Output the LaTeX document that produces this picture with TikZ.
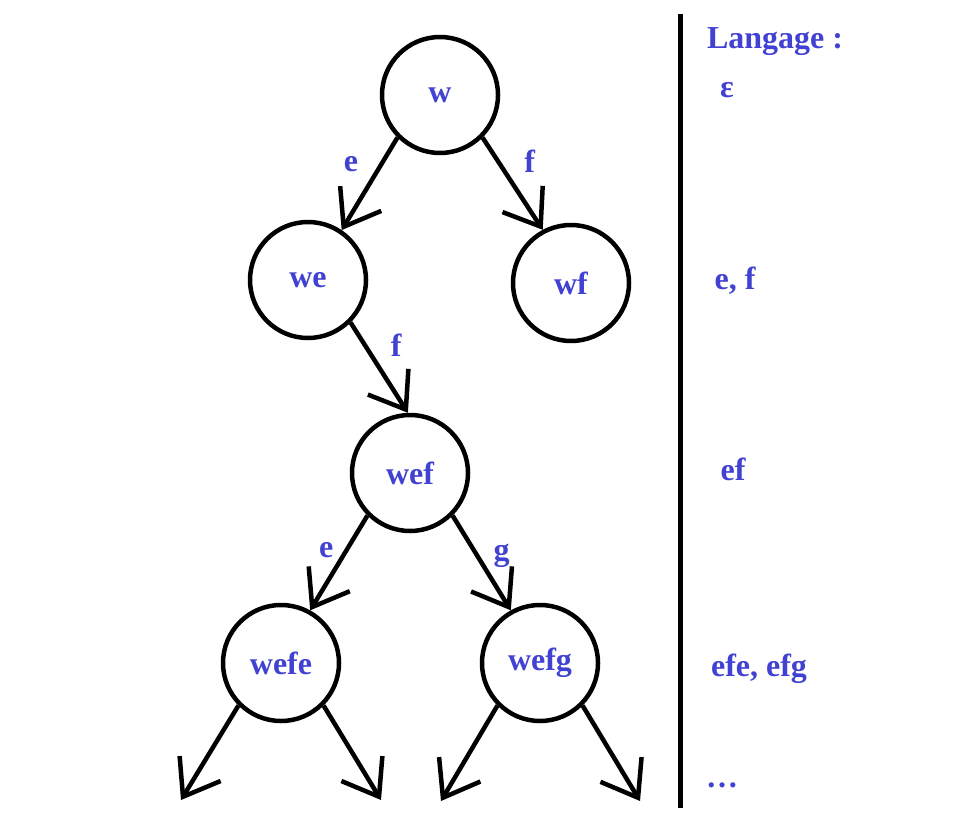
\documentclass[tikz,border=0pt]{standalone}
\usepackage{fontspec}
\setmainfont{Liberation Serif}
\usetikzlibrary{arrows.meta}
\definecolor{langblue}{RGB}{66,66,210}

\begin{document}
\begin{tikzpicture}[x=1pt,y=-1pt,line width=4.5pt,
        every node/.style={text=langblue,font=\fontsize{32}{38}\selectfont\bfseries},
        state/.style={circle,draw=black,minimum size=116pt,inner sep=0pt},
        trans/.style={-{Straight Barb[length=33pt,width=48pt]}}]
        \useasboundingbox (0,0) rectangle (968,824);

        \node (w) at (440,95) [state] {w};
        \node (we) at (308,280) [state] {we};
        \node (wf) at (571,283) [state] {wf};
        \node (wef) at (410,473) [state] {wef};
        \node (wefe) at (281,663) [state] {wefe};
        \node (wefg) at (540,663) [state] {wefg};

        \coordinate (wefe1) at (181,800);
        \coordinate (wefe2) at (381,800);
        \coordinate (wefg1) at (441,801);
        \coordinate (wefg2) at (640,801);

        \draw[trans] (w.225) -- (we.56) node[midway,above left=6pt] {e};
        \draw[trans] (w.-45) -- (wf.118) node[midway,above right=6pt] {f};
        \draw[trans] (we.-45) -- (wef.92) node[midway,above right=6pt] {f};
        \draw[trans] (wef.225) -- (wefe.61) node[midway,above left] {e};
        \draw[trans] (wef.-45) -- (wefg.119) node[pos=0.42,right=11pt] {g};
        \draw[trans] (wefe.225) -- (wefe1);
        \draw[trans] (wefe.-45) -- (wefe2);
        \draw[trans] (wefg.225) -- (wefg1);
        \draw[trans] (wefg.-45) -- (wefg2);

        % langage
        \draw[line width=5pt] (680,14) -- (680,808);
        \node (lang) at (775,42) {Langage :};
        \node (l0) at (727,90) {ε};
        \node (l1) at (735,281) {e, f};
        \node (l2) at (733,469) {ef};
        \node (l3) at (759,669) {efe, efg};
        \node (l4) at (722,785) {…};
    \end{tikzpicture}
\end{document}
